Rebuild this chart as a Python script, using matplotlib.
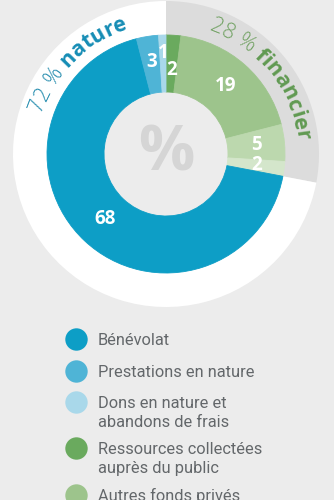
import numpy as np
import matplotlib
matplotlib.use('Agg')
import matplotlib.pyplot as plt
from matplotlib.font_manager import FontProperties

# parts of the ring, clockwise from the top
valeurs = [2, 19, 5, 2, 68, 3, 1]
couleurs = ['#6aaa5e', '#9dc48c', '#bcd8ae', '#d4e6cb', '#0d9ec6', '#4fb4d6', '#a9d8ea']
# outer band: financier / nature
groupes = [28, 72]
couleurs_groupes = ['#dcdcdc', '#ffffff']

legende = ['Bénévolat', 'Prestations en nature', 'Dons en nature et\nabandons de frais',
           'Ressources collectées\nauprès du public', 'Autres fonds privés']
couleurs_legende = ['#0d9ec6', '#4fb4d6', '#a9d8ea', '#6aaa5e', '#9dc48c']

police = 'Open Sans'
W, H = 334, 500
cx, cy = 166, H - 154

fig = plt.figure(figsize=(W / 100, H / 100), dpi=100, facecolor='#ececec')
ax = fig.add_axes([0, 0, 1, 1])
ax.set_facecolor('#ececec')
rend = fig.canvas.get_renderer()

ax.pie(groupes, colors=couleurs_groupes, startangle=90, counterclock=False,
       center=(cx, cy), radius=153, wedgeprops=dict(width=34, linewidth=0))

parts, _, nums = ax.pie(valeurs, colors=couleurs, startangle=90, counterclock=False,
                        center=(cx, cy), radius=119,
                        wedgeprops=dict(width=57, linewidth=0.6),
                        autopct=lambda p: f'{p:.0f}', pctdistance=0.76,
                        textprops=dict(color='white', fontsize=13.5, fontweight='bold',
                                       family=police))
for w in parts:
    w.set_edgecolor(w.get_facecolor())

# small slices: labels nudged like the original
dist = [84, 90, 91, 91, 89, 93, 101]
for w, t, d in zip(parts, nums, dist):
    a = np.deg2rad((w.theta1 + w.theta2) / 2)
    t.set_position((cx + d * np.cos(a), cy + d * np.sin(a)))
    t.set_va('center')

ax.text(cx, cy, '%', ha='center', va='center', fontsize=45, fontweight='bold',
        color='#d5d5d5', family=police)


def largeur(s, prop):
    return (rend.get_text_width_height_descent('|' + s + '|', prop, ismath=False)[0]
            - rend.get_text_width_height_descent('||', prop, ismath=False)[0])


def texte_arc(morceaux, angle0, r, taille):
    ang = angle0
    for txt, poids, coul in morceaux:
        prop = FontProperties(family=police, weight=poids, size=taille)
        for i, c in enumerate(txt):
            x0 = largeur(txt[:i], prop)
            x1 = largeur(txt[:i + 1], prop)
            m = ang - np.rad2deg((x0 + x1) / 2 / r)
            a = np.deg2rad(m)
            ax.text(cx + r * np.cos(a), cy + r * np.sin(a), c, rotation=m - 90,
                    rotation_mode='anchor', ha='center', va='baseline',
                    fontproperties=prop, color=coul)
        ang -= np.rad2deg(largeur(txt, prop) / r)


texte_arc([('72 % ', 'light', '#2a8fb0'), ('nature', 'bold', '#168db5')], 162, 131, 15.5)
texte_arc([('28 % ', 'light', '#74a366'), ('financier', 'bold', '#619a52')], 71, 131, 15.5)

# legend
ys = [339, 371, 402, 448, 495]
for y, lab, col in zip(ys, legende, couleurs_legende):
    ax.scatter([76], [H - y], s=260, color=col, linewidths=0)
    for k, ligne in enumerate(lab.split('\n')):
        ax.text(98, H - (y + 6 + 19 * k), ligne, ha='left', va='baseline', fontsize=11.8,
                color='#63676a', family='Roboto')

ax.set_xlim(0, W)
ax.set_ylim(0, H)
ax.set_aspect('equal')
ax.axis('off')
fig.savefig('out.png', dpi=100, facecolor='#ececec')
